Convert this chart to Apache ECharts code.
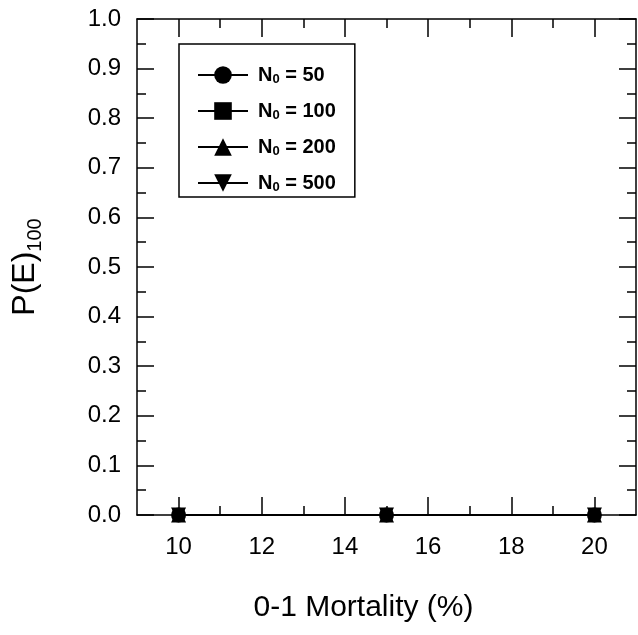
<!DOCTYPE html>
<html>
<head>
<meta charset="utf-8">
<script src="https://cdn.jsdelivr.net/npm/echarts@6/dist/echarts.min.js"></script>
<style>html,body{margin:0;padding:0;background:#fff}#c{width:638px;height:635px}</style>
</head>
<body>
<div id="c"></div>
<script>
const mortality = [10, 15, 20];
const seriesNames = ['50', '100', '200', '500'];
const pe_N50 = [0, 0, 0];
const pe_N100 = [0, 0, 0];
const pe_N200 = [0, 0, 0];
const pe_N500 = [0, 0, 0];
const xMajorTicks = [10, 12, 14, 16, 18, 20];
const xMinorTicks = [11, 13, 15, 17, 19];

const values = [pe_N50, pe_N100, pe_N200, pe_N500];
const symbols = ['circle', 'rect', 'triangle', 'triangle'];
const rotates = [0, 0, 0, 180];
const sizes = [15, 12, 15, 15];
const FONT = 'Liberation Sans, Arial, Helvetica, sans-serif';

const chart = echarts.init(document.getElementById('c'), null, {renderer: 'canvas'});

const axisLine = {show: true, lineStyle: {color: '#000', width: 1.5}};
const xCommon = {type: 'value', min: 9, max: 21, splitLine: {show: false}};

const xAxes = [
  Object.assign({}, xCommon, {
    position: 'bottom', axisLine: axisLine,
    axisTick: {show: true, inside: true, length: 18, customValues: xMajorTicks, lineStyle: {color: '#000', width: 1.5}},
    axisLabel: {show: true, customValues: xMajorTicks, color: '#000', fontSize: 24, fontFamily: FONT, margin: 20},
    name: '0-1 Mortality (%)', nameLocation: 'middle', nameGap: 78,
    nameTextStyle: {color: '#000', fontSize: 30, fontFamily: FONT, padding: [0, 46, 0, 0]}
  }),
  Object.assign({}, xCommon, {
    position: 'bottom', axisLine: {show: false},
    axisTick: {show: true, inside: true, length: 9, customValues: xMinorTicks, lineStyle: {color: '#000', width: 1.5}},
    axisLabel: {show: false}
  }),
  Object.assign({}, xCommon, {
    position: 'top', axisLine: axisLine,
    axisTick: {show: true, inside: true, length: 18, customValues: xMajorTicks, lineStyle: {color: '#000', width: 1.5}},
    axisLabel: {show: false}
  }),
  Object.assign({}, xCommon, {
    position: 'top', axisLine: {show: false},
    axisTick: {show: true, inside: true, length: 9, customValues: xMinorTicks, lineStyle: {color: '#000', width: 1.5}},
    axisLabel: {show: false}
  })
];

const yCommon = {
  type: 'value', min: 0, max: 1, interval: 0.1, splitLine: {show: false},
  axisLine: axisLine,
  axisTick: {show: true, inside: true, length: 17, lineStyle: {color: '#000', width: 1.5}},
  minorTick: {show: true, splitNumber: 2, length: 9, lineStyle: {color: '#000', width: 1.5}},
  minorSplitLine: {show: false}
};

const yAxes = [
  Object.assign({}, yCommon, {
    position: 'left',
    axisLabel: {show: true, color: '#000', fontSize: 24, fontFamily: FONT, margin: 16,
      formatter: v => v.toFixed(1)},
    name: '{a|P(E)}{s|100}', nameLocation: 'middle', nameGap: 92,
    nameTextStyle: {
      rich: {
        a: {fontSize: 32, fontFamily: FONT, color: '#000', lineHeight: 40},
        s: {fontSize: 20, fontFamily: FONT, color: '#000', lineHeight: 20, verticalAlign: 'bottom'}
      }
    }
  }),
  Object.assign({}, yCommon, {position: 'right', axisLabel: {show: false}})
];

const series = seriesNames.map((n, i) => ({
  name: n,
  type: 'line',
  xAxisIndex: 0, yAxisIndex: 0,
  data: mortality.map((m, j) => [m, values[i][j]]),
  symbol: symbols[i],
  symbolRotate: rotates[i],
  symbolSize: sizes[i],
  showSymbol: true,
  clip: false,
  z: 5,
  itemStyle: {color: '#000'},
  lineStyle: {color: '#000', width: 1.5}
}));

chart.setOption({
  animation: false,
  backgroundColor: '#fff',
  grid: {left: 137, right: 2, top: 19, bottom: 120, containLabel: false},
  xAxis: xAxes,
  yAxis: yAxes,
  legend: {
    orient: 'vertical', left: 179, top: 44,
    data: seriesNames,
    itemWidth: 50, itemHeight: 22, itemGap: 15,
    padding: [21, 19, 3, 18],
    borderColor: '#000', borderWidth: 1.5,
    backgroundColor: '#fff',
    selectedMode: false,
    formatter: n => '{b|N}{s|0}{b| = ' + n + '}',
    textStyle: {
      rich: {
        b: {fontSize: 20, fontWeight: 'bold', fontFamily: FONT, color: '#000', lineHeight: 22},
        s: {fontSize: 13, fontWeight: 'bold', fontFamily: FONT, color: '#000', lineHeight: 13, verticalAlign: 'bottom'}
      },
      padding: [0, 0, 0, 5]
    }
  },
  series: series
});
</script>
</body>
</html>
